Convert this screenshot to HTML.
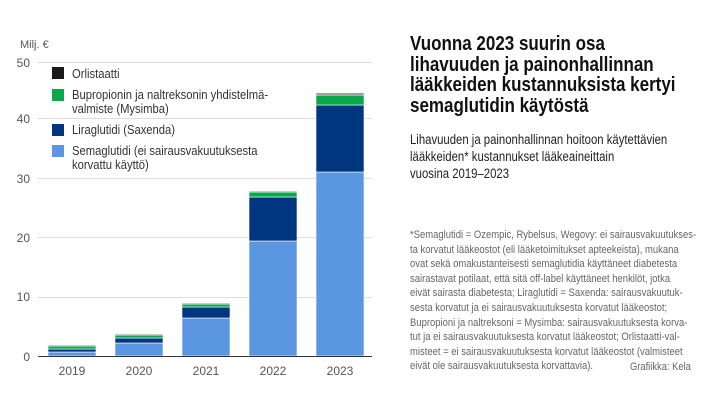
<!DOCTYPE html>
<html><head><meta charset="utf-8"><style>
body{margin:0;width:720px;height:405px;background:#fff;font-family:"Liberation Sans",sans-serif;position:relative;overflow:hidden}
.t{position:absolute;white-space:nowrap;transform-origin:0 0}
</style></head><body>
<svg width="400" height="405" style="position:absolute;left:0;top:0" font-family="Liberation Sans, sans-serif">
<text x="20" y="48" font-size="11" fill="#555">Milj. €</text>
<g stroke="#ddd" stroke-width="1">
<line x1="38" x2="372" y1="62.5" y2="62.5"/><line x1="38" x2="372" y1="118.5" y2="118.5"/>
<line x1="38" x2="372" y1="178.5" y2="178.5"/><line x1="38" x2="372" y1="237.5" y2="237.5"/>
<line x1="38" x2="372" y1="297.5" y2="297.5"/></g>
<g font-size="12" fill="#555" text-anchor="end">
<text x="30" y="67">50</text><text x="30" y="123">40</text><text x="30" y="183">30</text>
<text x="30" y="242">20</text><text x="30" y="301">10</text><text x="30" y="361">0</text></g>
<g stroke="#fff" stroke-width="0.6">
<rect x="48" y="352" width="48" height="4" fill="#5b96e0"/><rect x="48" y="349" width="48" height="3" fill="#003580"/><rect x="48" y="346" width="48" height="3" fill="#0aa84a"/><rect x="48" y="345" width="48" height="1" fill="#777"/>
<rect x="115" y="343" width="48" height="13" fill="#5b96e0"/><rect x="115" y="338" width="48" height="5" fill="#003580"/><rect x="115" y="335" width="48" height="3" fill="#0aa84a"/><rect x="115" y="334" width="48" height="1" fill="#777"/>
<rect x="182" y="318" width="48" height="38" fill="#5b96e0"/><rect x="182" y="307" width="48" height="11" fill="#003580"/><rect x="182" y="304" width="48" height="3" fill="#0aa84a"/><rect x="182" y="303" width="48" height="1" fill="#777"/>
<rect x="249" y="241" width="48" height="115" fill="#5b96e0"/><rect x="249" y="197" width="48" height="44" fill="#003580"/><rect x="249" y="192" width="48" height="5" fill="#0aa84a"/><rect x="249" y="191" width="48" height="1" fill="#777"/>
<rect x="316" y="172" width="48" height="184" fill="#5b96e0"/><rect x="316" y="105" width="48" height="67" fill="#003580"/><rect x="316" y="95" width="48" height="10" fill="#0aa84a"/><rect x="316" y="93" width="48" height="2" fill="#777"/>
</g>
<line x1="38" x2="372" y1="356.5" y2="356.5" stroke="#333" stroke-width="1"/>
<g font-size="12" fill="#555" text-anchor="middle">
<text x="72" y="375">2019</text><text x="139" y="375">2020</text><text x="206" y="375">2021</text><text x="273" y="375">2022</text><text x="340" y="375">2023</text></g>
<rect x="52" y="67" width="12" height="12" fill="#1a1a1a"/>
<rect x="52" y="89" width="12" height="12" fill="#0aa84a"/>
<rect x="52" y="124" width="12" height="12" fill="#003580"/>
<rect x="52" y="145" width="12" height="12" fill="#5b96e0"/>
<g font-size="12.5" fill="#333" transform="translate(72,0) scale(0.9,1)">
<text x="0" y="78">Orlistaatti</text>
<text x="0" y="99">Bupropionin ja naltreksonin yhdistelmä-</text>
<text x="0" y="113">valmiste (Mysimba)</text>
<text x="0" y="134">Liraglutidi (Saxenda)</text>
<text x="0" y="155">Semaglutidi (ei sairausvakuutuksesta</text>
<text x="0" y="169">korvattu käyttö)</text></g>
</svg>
<div class="t" style="left:410px;top:34px;transform:scaleX(0.85);font-weight:bold;font-size:20px;line-height:20.5px;color:#111">Vuonna 2023 suurin osa<br>lihavuuden ja painonhallinnan<br>lääkkeiden kustannuksista kertyi<br>semaglutidin käytöstä</div>
<div class="t" style="left:410px;top:131px;transform:scaleX(0.84);font-size:13.5px;line-height:17px;color:#222">Lihavuuden ja painonhallinnan hoitoon käytettävien<br>lääkkeiden* kustannukset lääkeaineittain<br>vuosina 2019–2023</div>
<div class="t" style="left:410px;top:228px;transform:scaleX(0.86);font-size:11px;line-height:14.6px;color:#666">*Semaglutidi = Ozempic, Rybelsus, Wegovy: ei sairausvakuutukses-<br>ta korvatut lääkeostot (eli lääketoimitukset apteekeista), mukana<br>ovat sekä omakustanteisesti semaglutidia käyttäneet diabetesta<br>sairastavat potilaat, että sitä off-label käyttäneet henkilöt, jotka<br>eivät sairasta diabetesta; Liraglutidi = Saxenda: sairausvakuutuk-<br>sesta korvatut ja ei sairausvakuutuksesta korvatut lääkeostot;<br>Bupropioni ja naltreksoni = Mysimba: sairausvakuutuksesta korva-<br>tut ja ei sairausvakuutuksesta korvatut lääkeostot; Orlistaatti-val-<br>misteet = ei sairausvakuutuksesta korvatut lääkeostot (valmisteet<br>eivät ole sairausvakuutuksesta korvattavia).</div>
<div class="t" style="left:630px;top:361px;transform:scaleX(0.85);font-size:11px;color:#666">Grafiikka: Kela</div>
</body></html>
